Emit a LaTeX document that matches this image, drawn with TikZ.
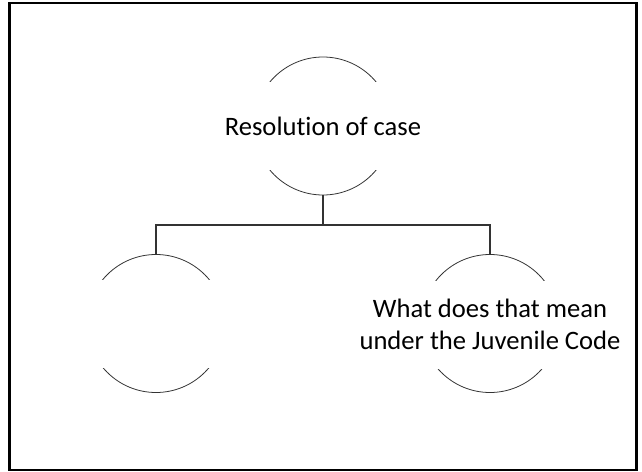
\documentclass[tikz,border=0pt]{standalone}
\usepackage{fontspec}
\setmainfont{Carlito}[Ligatures=NoCommon]
\begin{document}
\begin{tikzpicture}[x=1pt,y=-1pt,
  bubble/.style={circle,draw=black!80,line width=0.8pt,minimum size=138pt,inner sep=0pt},
  mask/.style={fill=white,minimum width=150pt,minimum height=88pt,inner sep=0pt,
               align=center,font=\fontsize{26.6}{31.5}\selectfont},
  link/.style={draw=black!80,line width=1.2pt}]
\useasboundingbox (0,0) rectangle (642,471);
\draw[line width=2.6pt] (9.5,3) rectangle (636.5,470);

% circles
\node[bubble] (top) at (323,126) {};
\node[bubble] (left) at (156,323.5) {};
\node[bubble] (right) at (490,323.5) {};

% connectors
\coordinate (mid) at (323,225);
\draw[link] (top.south) -- (mid);
\draw[link] (left.north) |- (mid) -| (right.north);

% labels over white bands
\node[mask] (ttop) at (323,126) {Resolution of case};
\node[mask] (tleft) at (156,323.5) {};
\node[mask,minimum width=110pt] (tright) at (490,324.5) {What does that mean\\under the Juvenile Code};
\end{tikzpicture}
\end{document}
